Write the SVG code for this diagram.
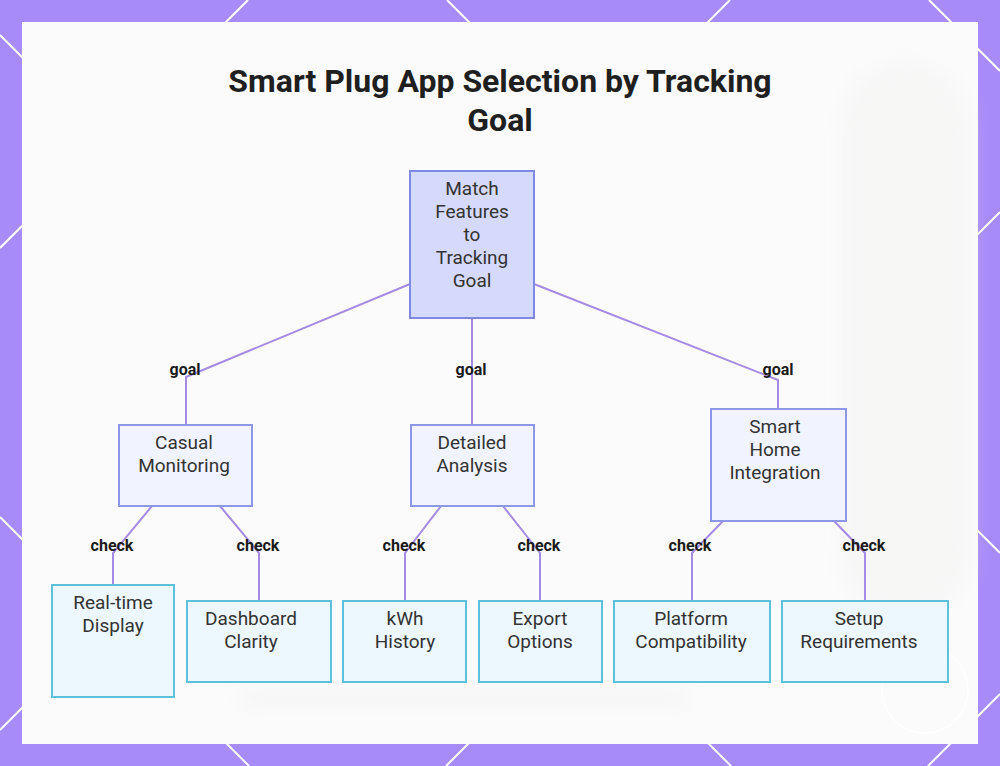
<svg xmlns="http://www.w3.org/2000/svg" width="1000" height="766" viewBox="0 0 1000 766">
<defs>
<style>
.bgline{stroke:#ffffff;stroke-width:2;fill:none}
.title{font-family:Roboto,"Liberation Sans",sans-serif;font-weight:700;font-size:32px;fill:#1f1f1f;text-anchor:middle}
.nt{font-family:Roboto,"Liberation Sans",sans-serif;font-size:19px;fill:#333333;text-anchor:middle}
.lbl{font-family:Roboto,"Liberation Sans",sans-serif;font-weight:700;font-size:16px;fill:#1a1a1a;text-anchor:middle}
.root{fill:#d5d9fb;stroke:#7f88e3;stroke-width:2}
.mid{fill:#f1f3ff;stroke:#8d97e8;stroke-width:2}
.leaf{fill:#edf7fe;stroke:#5cc1da;stroke-width:2}
.conn{fill:none;stroke:#a68be4;stroke-width:2}
</style>
<filter id="blur" x="-20%" y="-20%" width="140%" height="140%"><feGaussianBlur stdDeviation="10"/></filter>
</defs>
<rect width="1000" height="766" fill="#a78bf8"/>
<g id="pattern">
<line class="bgline" x1="248" y1="0" x2="0" y2="248"/>
<line class="bgline" x1="730" y1="0" x2="0" y2="730"/>
<line class="bgline" x1="1000" y1="212" x2="446" y2="766"/>
<line class="bgline" x1="1000" y1="694" x2="928" y2="766"/>
<line class="bgline" x1="0" y1="35" x2="731" y2="766"/>
<line class="bgline" x1="0" y1="517" x2="249" y2="766"/>
<line class="bgline" x1="447" y1="0" x2="1000" y2="553"/>
<line class="bgline" x1="929" y1="0" x2="1000" y2="71"/>
</g>
<rect x="22" y="22" width="956" height="722" fill="#fbfbfb"/>
<g id="backdrop" opacity="0.35" filter="url(#blur)">
<rect x="840" y="60" width="130" height="560" rx="65" fill="#f1f0ef"/>
<rect x="240" y="690" width="450" height="16" fill="#ebebeb"/>
</g>
<circle cx="925" cy="690" r="43" fill="none" stroke="#ffffff" stroke-width="1.5"/>
<text class="title" x="500" y="92">Smart Plug App Selection by Tracking</text>
<text class="title" x="500" y="131">Goal</text>
<g id="connectors">
<path class="conn" d="M410,284 L186,377 L186,425"/>
<path class="conn" d="M472,318 L472,425"/>
<path class="conn" d="M534,284 L778,380 L778,409"/>
<path class="conn" d="M152,506 L113,553 L113,585"/>
<path class="conn" d="M220,506 L259,553 L259,601"/>
<path class="conn" d="M441,506 L405,553 L405,601"/>
<path class="conn" d="M503,506 L540,553 L540,601"/>
<path class="conn" d="M723,521 L692,553 L692,601"/>
<path class="conn" d="M834,521 L865,553 L865,601"/>
<text class="lbl" x="185" y="375">goal</text>
<text class="lbl" x="471" y="375">goal</text>
<text class="lbl" x="778" y="375">goal</text>
<text class="lbl" x="112" y="551">check</text>
<text class="lbl" x="258" y="551">check</text>
<text class="lbl" x="404" y="551">check</text>
<text class="lbl" x="539" y="551">check</text>
<text class="lbl" x="690" y="551">check</text>
<text class="lbl" x="864" y="551">check</text>
</g>
<g id="root">
<rect class="root" x="410" y="171" width="124" height="147"/>
<text class="nt" x="472" y="195">Match</text>
<text class="nt" x="472" y="218">Features</text>
<text class="nt" x="472" y="241">to</text>
<text class="nt" x="472" y="264">Tracking</text>
<text class="nt" x="472" y="287">Goal</text>
</g>
<g id="casual">
<rect class="mid" x="119" y="425" width="133" height="81"/>
<text class="nt" x="184" y="449">Casual</text>
<text class="nt" x="184" y="472">Monitoring</text>
</g>
<g id="detailed">
<rect class="mid" x="411" y="425" width="123" height="81"/>
<text class="nt" x="472" y="449">Detailed</text>
<text class="nt" x="472" y="472">Analysis</text>
</g>
<g id="smarthome">
<rect class="mid" x="711" y="409" width="135" height="112"/>
<text class="nt" x="775" y="433">Smart</text>
<text class="nt" x="775" y="456">Home</text>
<text class="nt" x="775" y="479">Integration</text>
</g>
<g id="realtime">
<rect class="leaf" x="52" y="585" width="122" height="112"/>
<text class="nt" x="113" y="609">Real-time</text>
<text class="nt" x="113" y="632">Display</text>
</g>
<g id="dashboard">
<rect class="leaf" x="187" y="601" width="144" height="81"/>
<text class="nt" x="251" y="625">Dashboard</text>
<text class="nt" x="251" y="648">Clarity</text>
</g>
<g id="kwh">
<rect class="leaf" x="343" y="601" width="123" height="81"/>
<text class="nt" x="405" y="625">kWh</text>
<text class="nt" x="405" y="648">History</text>
</g>
<g id="export">
<rect class="leaf" x="479" y="601" width="123" height="81"/>
<text class="nt" x="540" y="625">Export</text>
<text class="nt" x="540" y="648">Options</text>
</g>
<g id="platform">
<rect class="leaf" x="614" y="601" width="156" height="81"/>
<text class="nt" x="691" y="625">Platform</text>
<text class="nt" x="691" y="648">Compatibility</text>
</g>
<g id="setup">
<rect class="leaf" x="782" y="601" width="166" height="81"/>
<text class="nt" x="859" y="625">Setup</text>
<text class="nt" x="859" y="648">Requirements</text>
</g>
</svg>
